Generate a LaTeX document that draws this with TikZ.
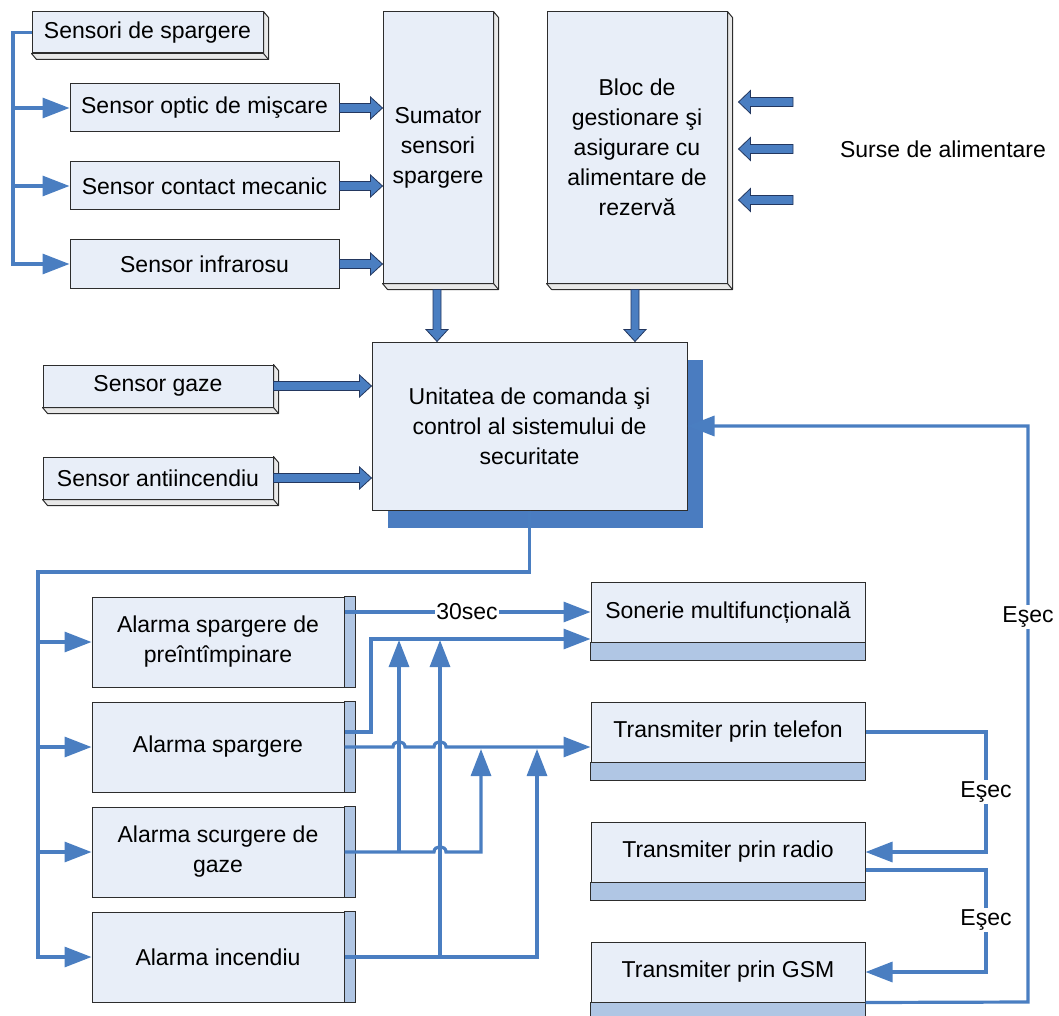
\documentclass[tikz,border=0pt]{standalone}
\usepackage{fontspec}
\setmainfont{Liberation Sans}
\usetikzlibrary{arrows.meta,calc,shadows}
\definecolor{ln}{RGB}{74,126,193}
\definecolor{bfill}{RGB}{232,238,248}
\definecolor{sfill}{RGB}{176,198,228}
\definecolor{edge}{RGB}{45,45,45}
\definecolor{baedge}{RGB}{35,55,95}
\definecolor{shadowc}{RGB}{74,124,192}
\newcommand\bevelbox[1]{%
  \filldraw[draw=edge, line width=1pt, fill=gray!18, line join=round]
    (#1.north east) -- ++(5,6) -- ($(#1.south east)+(5,6)$) -- ($(#1.south west)+(5,6)$)
    -- (#1.south west) -- (#1.south east) -- cycle;
  \draw[edge, line width=1pt] (#1.south east) -- ++(5,6);}
\newcommand\sidestrip[1]{\filldraw[draw=edge, line width=1pt, fill=sfill]
  (#1.north east) rectangle ($(#1.south east)+(11,0)$);}
\newcommand\botstrip[1]{\filldraw[draw=edge, line width=1pt, fill=sfill]
  (#1.south west) rectangle ($(#1.south east)+(0,18)$);}
\newcommand\blkR[2]{\filldraw[blk] let \p1=(#1), \p2=(#2) in
  (\x1,\y1+4.5pt) -- (\x2-12pt,\y1+4.5pt) -- (\x2-12pt,\y1+11pt) -- (\x2,\y1)
  -- (\x2-12pt,\y1-11pt) -- (\x2-12pt,\y1-4.5pt) -- (\x1,\y1-4.5pt) -- cycle;}
\newcommand\blkL[2]{\filldraw[blk] let \p1=(#1), \p2=(#2) in
  (\x1,\y1+4.5pt) -- (\x2+12pt,\y1+4.5pt) -- (\x2+12pt,\y1+11.5pt) -- (\x2,\y1)
  -- (\x2+12pt,\y1-11.5pt) -- (\x2+12pt,\y1-4.5pt) -- (\x1,\y1-4.5pt) -- cycle;}
\newcommand\blkD[2]{\filldraw[blk] let \p1=(#1), \p2=(#2) in
  (\x1-4pt,\y1) -- (\x1-4pt,\y2+12pt) -- (\x1-11pt,\y2+12pt) -- (\x1,\y2)
  -- (\x1+11pt,\y2+12pt) -- (\x1+4pt,\y2+12pt) -- (\x1+4pt,\y1) -- cycle;}
\begin{document}
\begin{tikzpicture}[x=1pt,y=-1pt,
  font=\fontsize{23}{30}\selectfont,
  box/.style={draw=edge, line width=1pt, fill=bfill, inner sep=0pt, align=center},
  conn/.style={draw=ln, line width=3.2pt, line join=miter},
  arr/.style={conn, -{Triangle[length=27pt,width=20pt]}},
  lab/.style={fill=white, inner sep=1.5pt},
  blk/.style={fill=ln, draw=baedge, line width=0.8pt, line join=miter}]
\useasboundingbox (0,0) rectangle (1059,1016);

% ---------- sensors ----------
\node[box, minimum width=231pt, minimum height=41pt] (s0) at (147.5,32.5) {Sensori de spargere};
\bevelbox{s0}
\node[box, minimum width=269pt, minimum height=48pt] (s1) at (204.5,108) {Sensor optic de mişcare};
\node[box, minimum width=269pt, minimum height=48pt] (s2) at (204.5,186) {Sensor contact mecanic};
\node[box, minimum width=269pt, minimum height=48pt] (s3) at (204.5,264) {Sensor infrarosu};

\node[box, minimum width=110pt, minimum height=271pt] (sum) at (438,147.5) {Sumator\\sensori\\spargere};
\bevelbox{sum}
\node[box, minimum width=180pt, minimum height=271pt] (bloc) at (637,147.5)
  {Bloc de\\gestionare şi\\asigurare cu\\alimentare de\\rezervă};
\bevelbox{bloc}

\node[box, minimum width=230pt, minimum height=42pt] (gz) at (158,386) {Sensor gaze};
\bevelbox{gz}
\node[box, minimum width=230pt, minimum height=42pt] (fr) at (158,478) {Sensor antiincendiu};
\bevelbox{fr}

\node[box, minimum width=315pt, minimum height=168pt,
  general shadow={fill=shadowc, shadow xshift=16pt, shadow yshift=-18pt}] (U) at (529.5,426)
  {Unitatea de comanda şi\\control al sistemului de\\securitate};

\node (surse) at (943,149) {Surse de alimentare};
\coordinate (src1) at (793,102);
\coordinate (src2) at (793,149);
\coordinate (src3) at (793,200);

% ---------- alarms ----------
\node[box, minimum width=252pt, minimum height=90pt] (a1) at (218,642) {Alarma spargere de\\preîntîmpinare};
\node[box, minimum width=252pt, minimum height=90pt] (a2) at (218,747) {Alarma spargere};
\node[box, minimum width=252pt, minimum height=90pt] (a3) at (218,852) {Alarma scurgere de\\gaze};
\node[box, minimum width=252pt, minimum height=90pt] (a4) at (218,957) {Alarma incendiu};
\foreach \n in {a1,a2,a3,a4}{\sidestrip{\n}}

\node[box, minimum width=274pt, minimum height=60pt] (r1) at (728,612) {Sonerie multifuncțională};
\node[box, minimum width=274pt, minimum height=60pt] (r2) at (728,732) {Transmiter prin telefon};
\node[box, minimum width=274pt, minimum height=60pt] (r3) at (728,852) {Transmiter prin radio};
\node[box, minimum width=274pt, minimum height=60pt] (r4) at (728,972) {Transmiter prin GSM};
\foreach \n in {r1,r2,r3,r4}{\botstrip{\n}}

% ---------- block arrows ----------
\blkR{s1.east}{sum.west}
\blkR{s2.east}{sum.west}
\blkR{s3.east}{sum.west}
\blkR{gz.east}{U.west}
\blkR{fr.east}{U.west}
\blkD{$(sum.south)+(-1,6)$}{U.north}
\blkD{$(bloc.south)+(-2,6)$}{U.north}
\blkL{src1}{$(bloc.east |- src1)+(11,0)$}
\blkL{src2}{$(bloc.east |- src2)+(11,0)$}
\blkL{src3}{$(bloc.east |- src3)+(11,0)$}

% ---------- sensor bus ----------
\coordinate (lb) at (13,32.5);
\draw[arr] (s0.west) -- (lb) |- (s3.west);
\draw[arr] (lb |- s1.west) -- (s1.west);
\draw[arr] (lb |- s2.west) -- (s2.west);

% ---------- alarm bus ----------
\coordinate (ab) at (38,572);
\draw[arr] (U.south) |- (ab) |- (a4.west);
\draw[arr] (ab |- a1.west) -- (a1.west);
\draw[arr] (ab |- a2.west) -- (a2.west);
\draw[arr] (ab |- a3.west) -- (a3.west);

% ---------- alarm outputs ----------
\draw[arr] (a1.east |- r1.west) -- (r1.west);
\node[lab] (t30) at (467,612) {30sec};
\coordinate (k1) at (371,639);
\draw[arr] ($(a2.east)+(0,-15)$) -| (k1) -- (r1.west |- k1);
\coordinate (j1) at (399,852);
\coordinate (j2) at (440,957);
\draw[arr] (j1) -- ($(j1 |- k1)+(0,1)$);
\draw[arr] (j2) -- ($(j2 |- k1)+(0,1)$);
\draw[arr] (a2.east) -- (393,747) .. controls (393,740) and (405,740) .. (405,747)
  -- (434,747) .. controls (434,740) and (446,740) .. (446,747) -- (r2.west |- a2.east);
\draw[arr] (a3.east) -- (434,852) .. controls (434,845) and (446,845) .. (446,852)
  -- (481,852) -- (481,749);
\draw[arr] (a4.east) -- (537,957) -- (537,749);

% ---------- transmitter chain ----------
\draw[arr] (r2.east) -- (986,732) -- (986,852) -- (r3.east);
\node[lab] (e1) at (986,792) {Eşec};
\draw[arr] ($(r3.east)+(0,18)$) -- (986,870) -- (986,972) -- (r4.east);
\node[lab] (e2) at (986,920) {Eşec};
\draw[arr] (r4.south east) -- (1028,1002) -- (1028,426) -- (U.east);
\node[lab] (e3) at (1028,617) {Eşec};
\end{tikzpicture}
\end{document}
